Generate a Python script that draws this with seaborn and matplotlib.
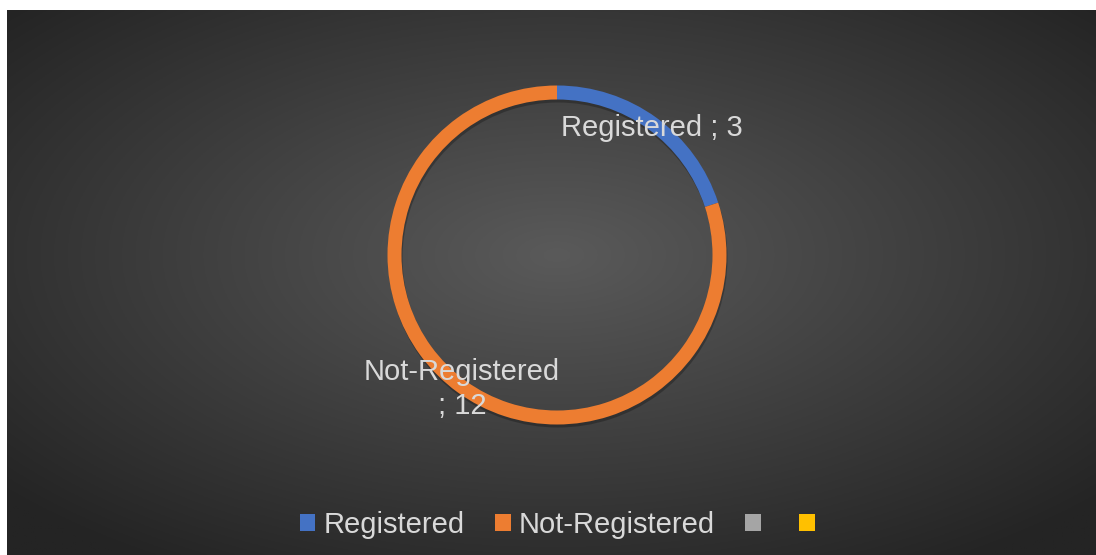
import numpy as np
import matplotlib
matplotlib.use("Agg")
import matplotlib.pyplot as plt
from matplotlib.patches import Patch
import seaborn as sns

categories = ["Registered", "Not-Registered"]
values = [3, 12]
legend_labels = ["Registered", "Not-Registered", "", ""]
colors = ["#4472C4", "#ED7D31", "#A5A5A5", "#FFC000"]

sns.set_theme(style="white")
plt.rcParams["font.family"] = ["Liberation Sans", "DejaVu Sans"]
TXT = "#D9D9D9"

W, H = 1096, 555
fig = plt.figure(figsize=(W / 100, H / 100), dpi=100, facecolor="white")
ax = fig.add_axes([0, 0, 1, 1])
ax.set_xlim(0, W)
ax.set_ylim(0, H)
ax.set_aspect("equal")
ax.axis("off")

# radial gradient background
x0, x1, y0, y1 = 7, W, 0, H - 10
cx, cy = 557, H - 255
xs = np.linspace(x0, x1, 600)
ys = np.linspace(y0, y1, 300)
X, Y = np.meshgrid(xs, ys)
d = np.sqrt(((X - cx) / ((x1 - x0) / 2)) ** 2 + ((Y - cy) / ((y1 - y0) / 2)) ** 2)
t = np.clip(d / 1.35, 0, 1)
c_in = np.array([0x5a, 0x5a, 0x5a]) / 255
c_out = np.array([0x24, 0x24, 0x24]) / 255
img = c_in[None, None, :] * (1 - t[..., None]) + c_out[None, None, :] * t[..., None]
ax.imshow(img, extent=(x0, x1, y0, y1), origin="lower", zorder=0, aspect="auto")

R = 169.5
wd = 14
# shadow
ax.pie(values, radius=R, center=(cx + 1, cy - 3), startangle=90, counterclock=False,
       colors=["black"] * 2, wedgeprops=dict(width=wd, alpha=0.25, linewidth=0))
wedges, _ = ax.pie(values, radius=R, center=(cx, cy), startangle=90, counterclock=False,
                   colors=colors[:2], wedgeprops=dict(width=wd, linewidth=0))
ax.set_xlim(0, W)
ax.set_ylim(0, H)

FS = 21
ax.text(652, H - 128, f"{categories[0]} ; {values[0]}", color=TXT, fontsize=FS,
        ha="center", va="center", zorder=5)
ax.text(462, H - 389, f"{categories[1]}\n; {values[1]}", color=TXT, fontsize=FS,
        ha="center", va="center", linespacing=1.27, zorder=5)

handles = [Patch(facecolor=c, edgecolor="none") for c in colors]
leg = fig.legend(handles, legend_labels, loc="center", bbox_to_anchor=(561.5 / W, 1 - 525 / H),
                 ncol=4, frameon=False, fontsize=FS, labelcolor=TXT,
                 handlelength=0.52, handleheight=0.52, handletextpad=0.28,
                 columnspacing=1.05)

fig.savefig("out.png", dpi=100, facecolor="white")
